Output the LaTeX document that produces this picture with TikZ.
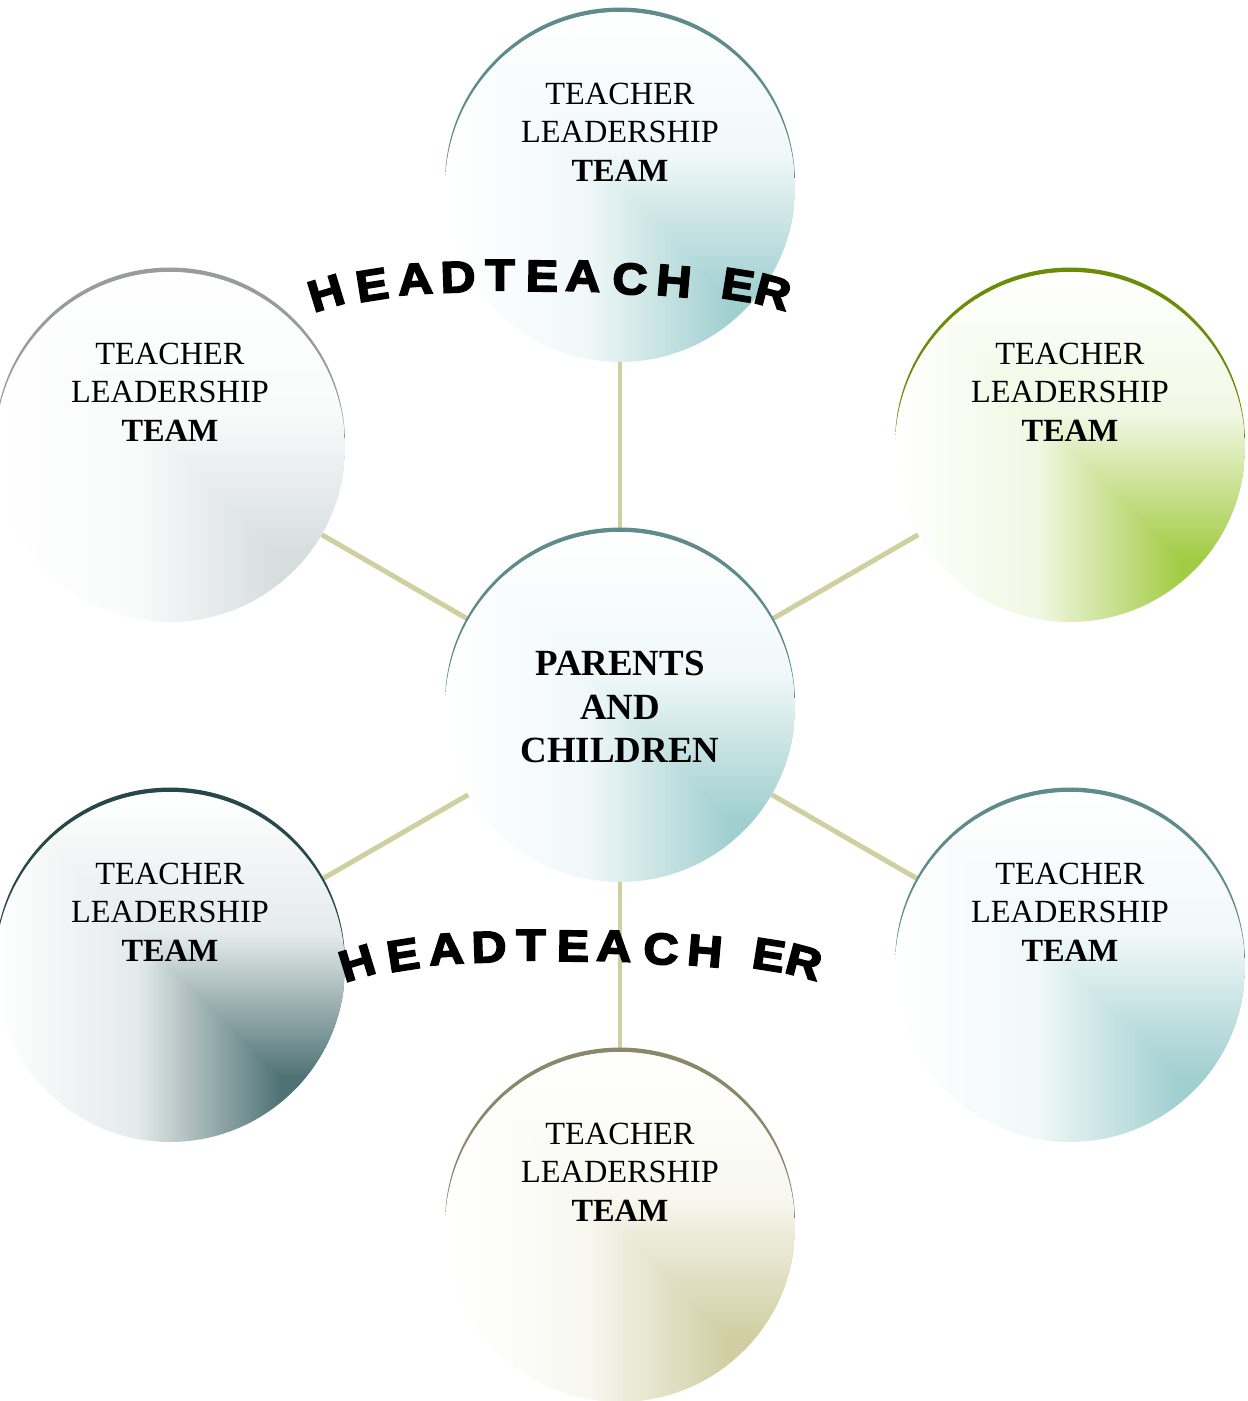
\documentclass[tikz,border=0pt]{standalone}
\usepackage{fontspec}
\setmainfont{Liberation Serif}
\newfontfamily\headfont{Liberation Sans}[UprightFont=* Bold, FakeBold=4, FakeStretch=1.1]
\usetikzlibrary{calc}

\definecolor{tealbase}{HTML}{A0CFD0}
\definecolor{tealrim}{HTML}{5F8B8C}
\definecolor{greybase}{HTML}{D6DDDE}
\definecolor{greyrim}{HTML}{9A9C9C}
\definecolor{greenbase}{HTML}{A3CC45}
\definecolor{greenrim}{HTML}{6A8C08}
\definecolor{slatebase}{HTML}{4F7375}
\definecolor{slaterim}{HTML}{28474A}
\definecolor{khakibase}{HTML}{D0CEA2}
\definecolor{khakirim}{HTML}{8A876A}
\definecolor{spokecol}{HTML}{CFCFA0}

\pgfdeclarelayer{bg}
\pgfsetlayers{bg,main}

\tikzset{
  ball/.style 2 args={circle, minimum size=7cm, inner sep=0pt,
    preaction={fill=#2, transform canvas={yshift=0.09cm}},
    path picture={
      \path (path picture bounding box.north west) coordinate (nw)
            (path picture bounding box.north east) coordinate (ne)
            (path picture bounding box.south west) coordinate (sw)
            (path picture bounding box.south east) coordinate (se);
      \shade[left color=white, right color=#1, middle color=#1!15!white] (nw) rectangle ($(sw)!0.815!(se)$);
      \fill[#1] ($(nw)!0.815!(ne)$) rectangle (se);
      \begin{scope}
        \clip (nw) -- (ne) -- (se) -- cycle;
        \shade[top color=white, bottom color=#1, middle color=#1!15!white] (nw) rectangle ($(ne)!0.815!(se)$);
        \fill[#1] ($(nw)!0.815!(sw)$) rectangle (se);
      \end{scope}
    }},
  spoke/.style={draw=spokecol, line width=2.8pt},
  team/.style={align=center, inner sep=0pt, font=\fontsize{18.4}{21.8}\selectfont},
  hubtext/.style={align=center, font=\fontsize{21}{24.7}\selectfont\bfseries},
  arcletter/.style={inner sep=0pt, font=\headfont\fontsize{25}{25}\selectfont},
}

\def\headword{H/326/293/17, E/372/285/9, A/415/279/4, D/458/277/2, T/500/275/0,
  E/542/276/-1, A/583/276/-2, C/630/279/-3, H/674/281/-5, E/738/285/-9, R/773/292/-15}

\begin{document}
\begin{tikzpicture}[x=0.02cm,y=0.02cm]
\useasboundingbox (0,0) rectangle (1248,-1401);

% centre
\node[ball={tealbase}{tealrim}, hubtext] (hub) at (620,-707) {PARENTS\\AND\\CHILDREN};

% teams
\foreach \name/\px/\py/\base in {top/620/-187/teal, lt/170/-447/grey, rt/1070/-447/green,
  lb/170/-967/slate, rb/1070/-967/teal, bot/620/-1227/khaki}
{
  \node[ball={\base base}{\base rim}] (\name) at (\px,\py) {};
  \node[team] (\name-t) at ([yshift=1.1cm]\name.center) {TEACHER\\LEADERSHIP\\\textbf{TEAM}};
}

\begin{pgfonlayer}{bg}
\fill[white] (0,0) rectangle (1248,-1401);
\foreach \name in {top,lt,rt,lb,rb,bot}
  \draw[spoke] (hub) -- (\name);
\end{pgfonlayer}

% curved words
\foreach \ch/\lx/\ly/\rot [count=\i] in \headword
  \node[arcletter, rotate=\rot] (upper-\i) at (\lx,-\ly) {\ch};
\begin{scope}[shift={(31,-670)}]
\foreach \ch/\lx/\ly/\rot [count=\i] in \headword
  \node[arcletter, rotate=\rot] (lower-\i) at (\lx,-\ly) {\ch};
\end{scope}

\end{tikzpicture}
\end{document}
